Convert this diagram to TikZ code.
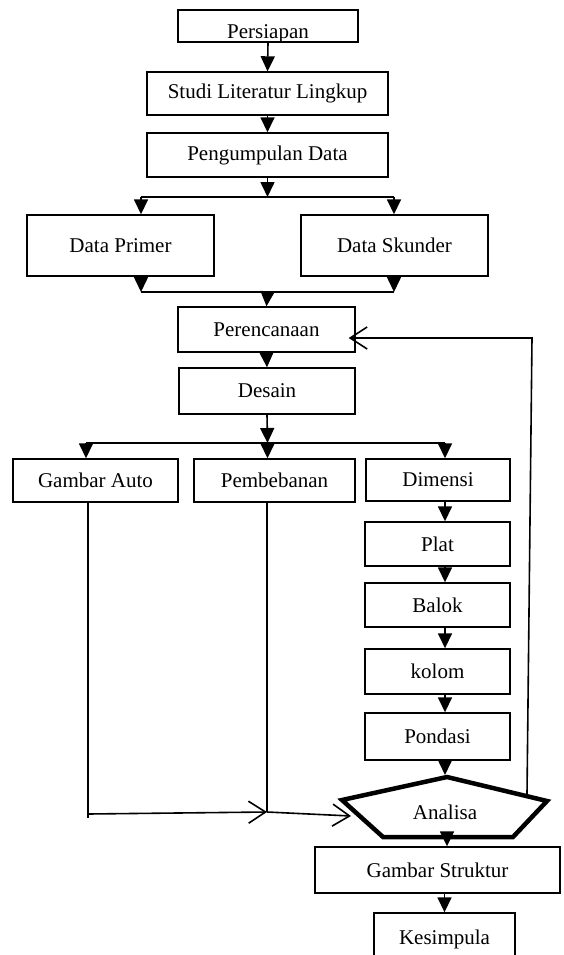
\documentclass[tikz,border=0pt]{standalone}
\usepackage{fontspec}
\setmainfont{Liberation Serif}
\usetikzlibrary{arrows.meta}
\begin{document}
\begin{tikzpicture}[x=1pt,y=-1pt,font=\fontsize{21}{25}\selectfont,
	kotak/.style={rectangle,draw,line width=1.4pt,inner sep=0pt},
	garis/.style={line width=1.6pt},
	panah/.style={line width=1.6pt,-{Triangle[width=14pt,length=15pt]}},
	panahbuka/.style={line width=1.6pt,-{Straight Barb[length=17pt,width=22pt,line width=1.6pt]}}]
	\useasboundingbox (0,0) rectangle (563,955);
	\clip (0,0) rectangle (563,955);
	
	% kotak-kotak utama
	\node[kotak,minimum width=180pt,minimum height=32pt,text height=26pt,text depth=0pt] (persiapan) at (268,26) {Persiapan};
	\node[kotak,minimum width=241pt,minimum height=43pt] (studi) at (267.5,93.5) {Studi Literatur Lingkup};
	\node[kotak,minimum width=241pt,minimum height=44pt] (kumpul) at (267.5,155) {Pengumpulan Data};
	\node[kotak,minimum width=187pt,minimum height=61pt] (primer) at (120.5,245.5) {Data Primer};
	\node[kotak,minimum width=187pt,minimum height=61pt] (skunder) at (394.5,245.5) {Data Skunder};
	\node[kotak,minimum width=177pt,minimum height=45pt] (rencana) at (266.5,329.5) {Perencanaan};
	\node[kotak,minimum width=176pt,minimum height=46pt] (desain) at (267,391) {Desain};
	\node[kotak,minimum width=165pt,minimum height=43pt] (gambarauto) at (95.5,480.5) {Gambar Auto};
	\node[kotak,minimum width=161pt,minimum height=43pt] (beban) at (274.5,480.5) {Pembebanan};
	\node[kotak,minimum width=144pt,minimum height=42pt] (dimensi) at (438,480) {Dimensi};
	\node[kotak,minimum width=145pt,minimum height=44pt] (plat) at (437.5,544) {Plat};
	\node[kotak,minimum width=145pt,minimum height=44pt] (balok) at (437.5,605) {Balok};
	\node[kotak,minimum width=145pt,minimum height=45pt] (kolom) at (437.5,671.5) {kolom};
	\node[kotak,minimum width=145pt,minimum height=47pt] (pondasi) at (437.5,736.5) {Pondasi};
	\node[kotak,minimum width=245pt,minimum height=46pt] (struktur) at (437.5,870) {Gambar Struktur};
	\node[kotak,minimum width=141pt,minimum height=52pt] (kesimpula) at (444.5,939) {Kesimpula};
	
	% segilima analisa
	\coordinate (puncak) at (447,777);
	\coordinate (kanan) at (547,801);
	\coordinate (kananbawah) at (513,837);
	\coordinate (kiribawah) at (383,837);
	\coordinate (kiri) at (342,800);
	\draw[line width=4.5pt,line join=miter] (puncak) -- (kanan) -- (kananbawah) -- (kiribawah) -- (kiri) -- cycle;
	\node (analisa) at (445,812) {Analisa};
	
	% titik cabang
	\coordinate (cabang1) at (267.5,197);
	\coordinate (kiri1) at (141,197);
	\coordinate (kanan1) at (394,197);
	\coordinate (gabung) at (267.5,292);
	\coordinate (kiri2) at (141,292);
	\coordinate (kanan2) at (394,292);
	\coordinate (cabang2) at (267.5,443);
	\coordinate (kiri3) at (86,443);
	\coordinate (kanan3) at (445,443);
	\coordinate (masuk) at (445,775);
	\coordinate (keluar) at (447,839);
	\coordinate (balik1) at (527,794);
	\coordinate (balik2) at (532,338);
	\coordinate (bawah1) at (88,814);
	\coordinate (bawah2) at (267,812);
	\coordinate (masukkiri) at (351,816);
	
	\draw[panah] (persiapan.south) -- (studi.north);
	\draw[panah] (studi.south) -- (kumpul.north);
	\draw[panah] (kumpul.south) -- (cabang1);
	\draw[garis] (kiri1) -- (kanan1);
	\draw[panah] (kiri1) -- (kiri1 |- primer.north);
	\draw[panah] (kanan1) -- (kanan1 |- skunder.north);
	\draw[panah] (kiri2 |- primer.south) -- (kiri2);
	\draw[panah] (kanan2 |- skunder.south) -- (kanan2);
	\draw[garis] (kiri2) -- (kanan2);
	\draw[panah] (gabung) -- (rencana.north);
	\draw[panah] (rencana.south) -- (desain.north);
	\draw[panah] (desain.south) -- (cabang2);
	\draw[garis] (kiri3) -- (kanan3);
	\draw[panah] (kiri3) -- (kiri3 |- gambarauto.north);
	\draw[panah] (cabang2) -- (cabang2 |- beban.north);
	\draw[panah] (kanan3) -- (kanan3 |- dimensi.north);
	\foreach \a/\b in {dimensi/plat,plat/balok,balok/kolom,kolom/pondasi}
		\draw[panah] (\a.south -| kanan3) -- (\b.north -| kanan3);
	\draw[panah] (pondasi.south -| kanan3) -- (masuk);
	\draw[panah] (keluar) -- (keluar |- struktur.north);
	\draw[panah] (struktur.south -| kesimpula.north) -- (kesimpula.north);
	
	% umpan balik ke perencanaan
	\draw[panahbuka,shorten >=-7pt] (balik1) -- (balik2) -- (balik2 -| rencana.east);
	
	% garis dari gambar auto dan pembebanan
	\draw[garis] (gambarauto.south -| bawah1) -- ([yshift=-4pt]bawah1);
	\draw[garis] (beban.south -| bawah2) -- (bawah2);
	\draw[panahbuka] (bawah1) -- (bawah2);
	\draw[panahbuka] (bawah2) -- (masukkiri);
\end{tikzpicture}
\end{document}
